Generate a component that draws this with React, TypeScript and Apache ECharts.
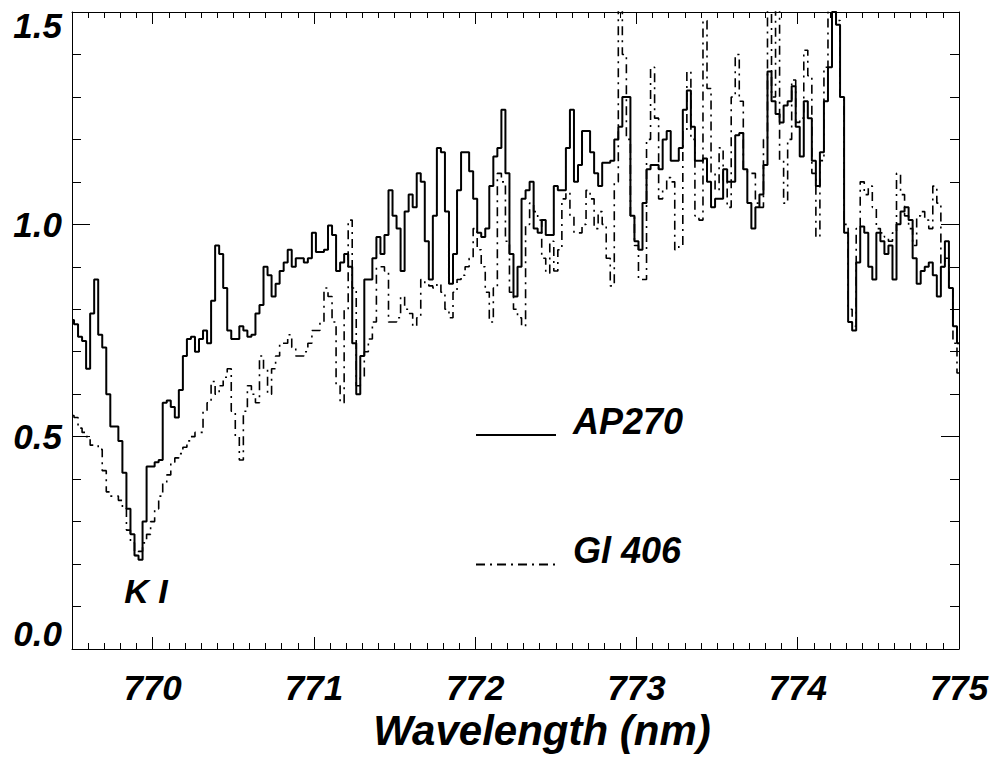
import React, { useEffect, useRef } from "react";
import * as echarts from "echarts";

// Wavelength grid (nm): first sample and spacing
const WL_START = 769.5;
const WL_STEP = 0.025;

// Axis ranges and ticks
const X_MIN = 769.5;
const X_MAX = 775;
const Y_MIN = 0;
const Y_MAX = 1.5;
const Y_INTERVAL = 0.5;

// Series names
const SERIES_NAMES = ["AP270", "Gl 406"];

// Normalized flux, AP270 (solid)
const AP270 = [
  0.775, 0.765, 0.735, 0.725, 0.66, 0.79, 0.87, 0.74, 0.71, 0.6,
  0.524, 0.524, 0.49, 0.415, 0.33, 0.27, 0.22, 0.21, 0.3, 0.43,
  0.43, 0.44, 0.445, 0.58, 0.585, 0.57, 0.545, 0.61, 0.69, 0.73,
  0.735, 0.7, 0.73, 0.75, 0.72, 0.82, 0.95, 0.93, 0.85, 0.75,
  0.73, 0.73, 0.76, 0.75, 0.735, 0.74, 0.79, 0.81, 0.9, 0.88,
  0.83, 0.86, 0.89, 0.91, 0.94, 0.9, 0.92, 0.92, 0.91, 0.92,
  0.98, 0.935, 0.935, 0.94, 0.997, 0.975, 0.89, 0.91, 0.93, 0.9,
  0.72, 0.6, 0.69, 0.87, 0.87, 0.92, 0.97, 0.93, 0.975, 1.08,
  1.02, 0.99, 0.89, 1.03, 1.07, 1.04, 1.12, 1.1, 0.96, 0.87,
  1.02, 1.18, 1.17, 1.03, 0.86, 0.93, 1.08, 1.17, 1.17, 1.125,
  1.06, 0.98, 0.97, 0.99, 1.09, 1.16, 1.18, 1.27, 1.12, 0.93,
  0.83, 0.9, 1.06, 1.08, 1.1, 0.99, 0.98, 1.01, 0.975, 0.975,
  1.09, 1.08, 1.08, 1.18, 1.27, 1.1, 1.14, 1.22, 1.22, 1.17,
  1.12, 1.09, 1.145, 1.145, 1.15, 1.2, 1.23, 1.3, 1.3, 1.02,
  0.96, 0.94, 1.05, 1.13, 1.14, 1.14, 1.13, 1.2, 1.22, 1.15,
  1.15, 1.18, 1.27, 1.315, 1.23, 1.15, 1.15, 1.155, 1.1, 1.04,
  1.06, 1.06, 1.13, 1.1, 1.1, 1.21, 1.215, 1.13, 1.05, 0.99,
  1.04, 1.07, 1.14, 1.36, 1.29, 1.26, 1.24, 1.28, 1.29, 1.325,
  1.23, 1.16, 1.29, 1.25, 1.15, 1.09, 1.17, 1.29, 1.37, 1.5,
  1.47, 1.3, 0.98, 0.77, 0.75, 0.91, 0.995, 0.98, 0.9, 0.87,
  0.98, 0.96, 0.93, 0.95, 0.87, 1.0, 1.03, 1.04, 1.01, 0.92,
  0.86, 0.89, 0.9, 0.91, 0.88, 0.83, 0.9, 0.96, 0.85, 0.76,
  0.72,
];

// Normalized flux, Gl 406 (dash-dot)
const GL406 = [
  0.55, 0.545, 0.52, 0.51, 0.5, 0.48, 0.48, 0.47, 0.42, 0.37,
  0.36, 0.36, 0.35, 0.33, 0.28, 0.25, 0.22, 0.23, 0.25, 0.27,
  0.3, 0.33, 0.36, 0.39, 0.41, 0.44, 0.45, 0.46, 0.475, 0.49,
  0.5, 0.51, 0.51, 0.56, 0.58, 0.63, 0.6, 0.62, 0.64, 0.66,
  0.56, 0.5, 0.445, 0.56, 0.62, 0.6, 0.58, 0.69, 0.66, 0.6,
  0.66, 0.69, 0.72, 0.72, 0.74, 0.71, 0.69, 0.69, 0.7, 0.72,
  0.75, 0.75, 0.77, 0.85, 0.83, 0.77, 0.62, 0.58, 0.8, 1.01,
  0.85, 0.62, 0.64, 0.7, 0.73, 0.77, 0.9, 0.9, 0.89, 0.77,
  0.77, 0.78, 0.83, 0.8, 0.79, 0.76, 0.78, 0.87, 0.86, 0.855,
  0.85, 0.86, 0.84, 0.8, 0.78, 0.84, 0.87, 0.88, 0.9, 0.92,
  0.99, 0.94, 0.9, 0.84, 0.77, 0.85, 1.12, 1.1, 0.96, 0.84,
  0.8, 0.78, 0.76, 1.0, 1.05, 1.03, 1.01, 0.92, 0.885, 0.96,
  0.89, 0.94, 1.06, 1.075, 1.02, 0.98, 0.98, 1.0, 1.08, 1.06,
  0.99, 1.03, 1.0, 0.92, 0.855, 1.1, 1.55, 1.4, 1.2, 1.02,
  0.95, 0.87, 0.87, 1.2, 1.37, 1.25, 1.06, 1.08, 1.11, 1.1,
  0.94, 0.95, 1.22, 1.36, 1.2, 1.02, 1.01, 1.48, 1.32, 1.12,
  1.08, 1.18, 1.1, 1.04, 1.3, 1.4, 1.29, 1.13, 1.12, 1.12,
  1.05, 1.04, 1.2, 1.55, 1.3, 1.55, 1.15, 1.05, 1.2, 1.34,
  1.24, 1.25, 1.41, 1.35, 1.12, 0.97, 1.15, 1.37, 1.5, 1.55,
  1.48, 1.3, 1.0, 0.8, 0.76, 0.99, 1.1, 1.07, 1.09, 1.04,
  0.99, 0.98, 0.97, 0.96, 0.98, 1.12, 1.07, 1.02, 0.99, 0.95,
  1.02, 1.03, 1.01, 0.99, 1.09, 1.05, 0.9, 0.92, 0.85, 0.72,
  0.65,
];

const FONT = "'Liberation Sans', Arial, Helvetica, sans-serif";

export default function App() {
  const ref = useRef<HTMLDivElement>(null);

  useEffect(() => {
    const chart = echarts.init(ref.current as HTMLDivElement, null, { renderer: "svg" });
    const toPairs = (arr: number[]) =>
      arr.map((v, i) => [Math.round((WL_START + i * WL_STEP) * 1000) / 1000, v]);

    const labelFont = {
      fontFamily: FONT,
      fontWeight: "bold" as const,
      fontStyle: "italic" as const,
      fontSize: 35,
      color: "#000",
    };
    const axisLine = { show: true, onZero: false, lineStyle: { color: "#000", width: 1 } };

    const xCommon = {
      type: "value" as const,
      min: X_MIN,
      max: X_MAX,
      splitNumber: 5,
      splitLine: { show: false },
      minorSplitLine: { show: false },
      axisLine,
      axisTick: { show: true, inside: true, length: 12, lineStyle: { color: "#000" } },
      minorTick: { show: true, splitNumber: 10, length: 6, lineStyle: { color: "#000" } },
    };
    const yCommon = {
      type: "value" as const,
      min: Y_MIN,
      max: Y_MAX,
      interval: Y_INTERVAL,
      splitLine: { show: false },
      minorSplitLine: { show: false },
      axisLine,
      axisTick: { show: true, inside: true, length: 18, lineStyle: { color: "#000" } },
      minorTick: { show: true, splitNumber: 5, length: 9, lineStyle: { color: "#000" } },
    };

    const legendFont = {
      fontFamily: FONT,
      fontWeight: "bold" as const,
      fontStyle: "italic" as const,
      fontSize: 36,
      color: "#000",
    };

    chart.setOption({
      animation: false,
      backgroundColor: "#fff",
      grid: { left: 72, right: 42, top: 12, bottom: 115, containLabel: false, outerBoundsMode: "none" },
      xAxis: [
        {
          ...xCommon,
          position: "bottom",
          axisLabel: {
            ...labelFont,
            margin: 21,
            formatter: (v: number) =>
              Math.abs(v - Math.round(v)) < 1e-6 ? String(Math.round(v)) : "",
          },
          name: "Wavelength (nm)",
          nameLocation: "middle",
          nameGap: 56,
          nameTextStyle: {
            fontFamily: FONT,
            fontWeight: "bold",
            fontStyle: "italic",
            fontSize: 42,
            color: "#000",
            padding: [0, 0, 0, 53],
          },
        },
        {
          ...xCommon,
          position: "top",
          axisLabel: { show: false },
        },
      ],
      yAxis: [
        {
          ...yCommon,
          position: "left",
          axisLabel: {
            ...labelFont,
            margin: 10,
            formatter: (v: number) => {
              const s = v.toFixed(1);
              if (Math.abs(v - Y_MIN) < 1e-6) return "{lo|" + s + "}";
              if (Math.abs(v - Y_MAX) < 1e-6) return "{hi|" + s + "}";
              return s;
            },
            rich: {
              lo: { ...labelFont, padding: [0, 0, 32, 0] },
              hi: { ...labelFont, padding: [26, 0, 0, 0] },
            },
          },
        },
        {
          ...yCommon,
          position: "right",
          axisLabel: { show: false },
        },
      ],
      legend: {
        orient: "vertical",
        left: 475,
        top: 403,
        padding: 0,
        itemWidth: 80,
        itemHeight: 4,
        itemGap: 65.5,
        selectedMode: false,
        itemStyle: { opacity: 0 },
        formatter: (name: string) => "{n|" + name + "}",
        textStyle: {
          ...legendFont,
          rich: {
            n: { ...legendFont, lineHeight: 40, padding: [0, 0, 28, 12] },
          },
        },
        data: SERIES_NAMES,
      },
      graphic: [
        {
          type: "text",
          x: 146,
          y: 591,
          style: {
            text: "K I",
            fill: "#000",
            font: "italic bold 34px " + FONT,
            textAlign: "center",
            textVerticalAlign: "middle",
          },
        },
      ],
      series: [
        {
          name: SERIES_NAMES[0],
          type: "line",
          step: "middle",
          xAxisIndex: 0,
          yAxisIndex: 0,
          symbol: "none",
          showSymbol: false,
          clip: true,
          lineStyle: { color: "#000", width: 2, type: "solid" },
          itemStyle: { color: "#000" },
          data: toPairs(AP270),
        },
        {
          name: SERIES_NAMES[1],
          type: "line",
          step: "middle",
          xAxisIndex: 0,
          yAxisIndex: 0,
          symbol: "none",
          showSymbol: false,
          clip: true,
          lineStyle: { color: "#000", width: 1.6, type: [9, 5, 2, 5] },
          itemStyle: { color: "#000" },
          data: toPairs(GL406),
        },
      ],
    });

    return () => chart.dispose();
  }, []);

  return (
    <div
      ref={ref}
      style={{ position: "fixed", left: 0, top: 0, width: 1001, height: 764, background: "#fff" }}
    />
  );
}
